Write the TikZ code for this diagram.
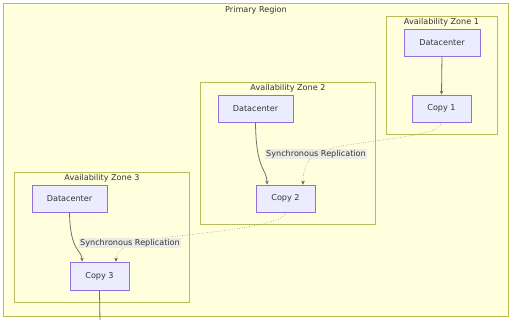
\documentclass[tikz,border=0pt]{standalone}
\usepackage{fontspec}
\setmainfont{DejaVu Sans}
\usetikzlibrary{arrows.meta}
\definecolor{regfill}{HTML}{FFFFDE}
\definecolor{regstroke}{HTML}{AAAA33}
\definecolor{nodefill}{HTML}{ECECFF}
\definecolor{nodestroke}{HTML}{9370DB}
\definecolor{txt}{HTML}{333333}
\definecolor{labbg}{HTML}{E8E8E8}
\tikzset{
  x=1pt, y=-1pt,
  every node/.style={font=\fontsize{8.1}{9.5}\selectfont, text=txt},
  region/.style={draw=regstroke!80, fill=regfill, line width=0.6pt},
  box/.style={draw=nodestroke, fill=nodefill, line width=0.6pt, minimum height=27pt, inner sep=0pt},
  title/.style={inner sep=0pt},
  edge/.style={draw=txt!70, line width=0.8pt, -{Stealth[length=4pt,width=3.5pt]}},
  repl/.style={draw=txt!80, line width=0.5pt, dotted, -{Stealth[length=4pt,width=3.5pt]}},
  lab/.style={fill=labbg, fill opacity=0.8, text opacity=1, inner sep=1pt},
}
\begin{document}
\begin{tikzpicture}
\useasboundingbox (0,0) rectangle (512,320);
\fill[white] (0,0) rectangle (512,320);
% regions
\draw[region] (3,3) rectangle (508,316);
\node[title] (tprim) at (256,10) {Primary Region};
\draw[region] (386,16) rectangle (497,134);
\node[title] (tz1) at (441.5,22) {Availability Zone 1};
\draw[region] (200,82) rectangle (375,224);
\node[title] (tz2) at (288,88) {Availability Zone 2};
\draw[region] (14,172) rectangle (189,302);
\node[title] (tz3) at (102,178) {Availability Zone 3};
% nodes
\node[box, minimum width=76pt] (dc1) at (442,42.5) {Datacenter};
\node[box, minimum width=59pt] (c1) at (441.5,108.5) {Copy 1};
\node[box, minimum width=75pt] (dc2) at (255.5,108.5) {Datacenter};
\node[box, minimum width=59pt] (c2) at (285.5,198.5) {Copy 2};
\node[box, minimum width=75pt] (dc3) at (69.5,198.5) {Datacenter};
\node[box, minimum width=59pt, minimum height=28pt] (c3) at (99.5,276) {Copy 3};
\coordinate (out) at (100,322);
% edges
\draw[edge] (dc1.south) -- (c1.north);
\draw[edge] (dc2.south) .. controls (256,172) and (267,168) .. ([xshift=-18.5pt]c2.north);
\draw[edge] (dc3.south) .. controls (70,252) and (82,250) .. ([xshift=-17.5pt]c3.north);
\draw[repl] (c1.south) .. controls (441,140) and (336,140) .. (316,154)
   .. controls (306,162) and (303,170) .. ([xshift=17.5pt]c2.north);
\draw[repl] (c2.south) .. controls (286,230) and (150,236) .. (130,243)
   .. controls (120,249) and (116,254) .. ([xshift=16.5pt]c3.north);
\draw[draw=txt!70, line width=0.8pt] (c3.south) -- (out);
% labels
\node[lab] (l2) at (316,154) {Synchronous Replication};
\node[lab] (l3) at (130,243) {Synchronous Replication};
\end{tikzpicture}
\end{document}
